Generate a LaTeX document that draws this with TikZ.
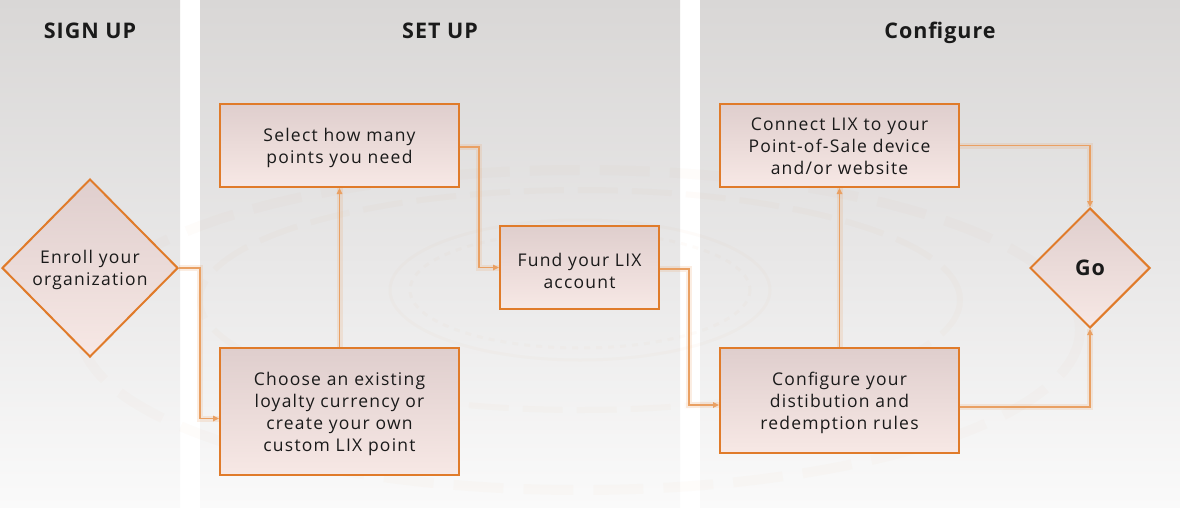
\documentclass[tikz,border=0pt]{standalone}
\usepackage{fontspec}
\setmainfont{Open Sans}[LetterSpace=7]
\newfontfamily\headfont{Open Sans}[LetterSpace=4.5]
\usetikzlibrary{shapes.geometric,arrows.meta}
\definecolor{lineor}{HTML}{E07B2A}
\definecolor{connc}{HTML}{E9A063}
\definecolor{txt}{HTML}{1A1A1A}
\definecolor{bgtop}{HTML}{D9D7D6}
\definecolor{bgmid}{HTML}{E8E7E7}
\definecolor{bgbot}{HTML}{FAFAFA}
\definecolor{boxtop}{HTML}{DFCECD}
\definecolor{boxbot}{HTML}{F7E8E5}
\begin{document}
\begin{tikzpicture}[x=1pt,y=-1pt,
  stepbox/.style={draw=lineor, line width=2pt, top color=boxtop, bottom color=boxbot, inner sep=0pt},
  boxtext/.style={align=center, text=txt, font=\fontsize{17.5}{22}\selectfont, inner sep=0pt, yshift=-2.5pt},
  decision/.style={diamond, aspect=1, draw=lineor, line width=2pt, top color=boxtop, bottom color=boxbot, inner sep=0pt},
  head/.style={text=txt, anchor=base, font=\headfont\fontsize{21.5}{24}\bfseries\selectfont},
  conn/.style={draw=connc, line width=1.5pt, -{Triangle[length=6pt,width=5.5pt]},
    preaction={-, draw=connc, line width=6pt, opacity=0.18}},
  deco/.style={draw=lineor, opacity=0.025, line width=3pt}
]
\useasboundingbox (0,0) rectangle (1180,507);
\fill[white] (0,0) rectangle (1180,507);
% columns
\shade[top color=bgtop, bottom color=bgbot, middle color=bgmid] (0,0) rectangle (180,507);
\shade[top color=bgtop, bottom color=bgbot, middle color=bgmid] (200,0) rectangle (680,507);
\shade[top color=bgtop, bottom color=bgbot, middle color=bgmid] (700,0) rectangle (1180,507);
% faint watermark decoration
\draw[deco, line width=6pt, dash pattern=on 40pt off 14pt] (580,300) ellipse (380 and 110);
\draw[deco] (580,290) ellipse (190 and 70);
\draw[deco, dash pattern=on 6pt off 6pt] (580,290) ellipse (170 and 58);
\draw[deco, opacity=0.02, line width=10pt, dash pattern=on 50pt off 20pt] (580,330) ellipse (500 and 160);
% headers
\node[head] (h1) at (90,38.3) {SIGN UP};
\node[head] (h2) at (440,38.3) {SET UP};
\node[head] (h3) at (940,38.3) {Configure};
% nodes
\node[decision, minimum width=176pt, minimum height=178pt,
  label={[boxtext, yshift=1pt]center:{Enroll your\\organization}}] (enroll) at (90,268) {};
\node[stepbox, minimum width=239pt, minimum height=83pt,
  label={[boxtext]center:{Select how many\\points you need}}] (select) at (339.5,145.5) {};
\node[stepbox, minimum width=239pt, minimum height=127pt,
  label={[boxtext]center:{Choose an existing\\loyalty currency or\\create your own\\custom LIX point}}] (choose) at (339.5,411.5) {};
\node[stepbox, minimum width=159pt, minimum height=83pt,
  label={[boxtext, yshift=-1pt]center:{Fund your LIX\\account}}] (fund) at (579.5,267.5) {};
\node[stepbox, minimum width=239pt, minimum height=83pt,
  label={[boxtext, yshift=1.5pt]center:{Connect LIX to your\\Point-of-Sale device\\and/or website}}] (connect) at (839.5,145.5) {};
\node[stepbox, minimum width=239pt, minimum height=105pt,
  label={[boxtext]center:{Configure your\\distibution and\\redemption rules}}] (config) at (839.5,400.5) {};
\node[decision, minimum width=120pt, minimum height=120pt,
  label={[text=txt, font=\headfont\fontsize{21.5}{24}\bfseries\selectfont, inner sep=0pt]center:Go}] (go) at (1090,268) {};
% connectors
\coordinate (c1) at (200,268);
\coordinate (c3) at (479,147);
\coordinate (c4) at (689,269);
\draw[conn] (enroll.east) -- (c1) |- ([yshift=-7pt]choose.west);
\draw[conn] (choose.north) -- (select.south);
\draw[conn] ([yshift=-1.5pt]select.east) -- (c3) |- (fund.west);
\draw[conn] ([yshift=-1.5pt]fund.east) -- (c4) |- ([yshift=-4.5pt]config.west);
\draw[conn] (config.north) -- (connect.south);
\draw[conn] (connect.east) -| (go.north);
\draw[conn] ([yshift=-6.5pt]config.east) -| (go.south);
\end{tikzpicture}
\end{document}
